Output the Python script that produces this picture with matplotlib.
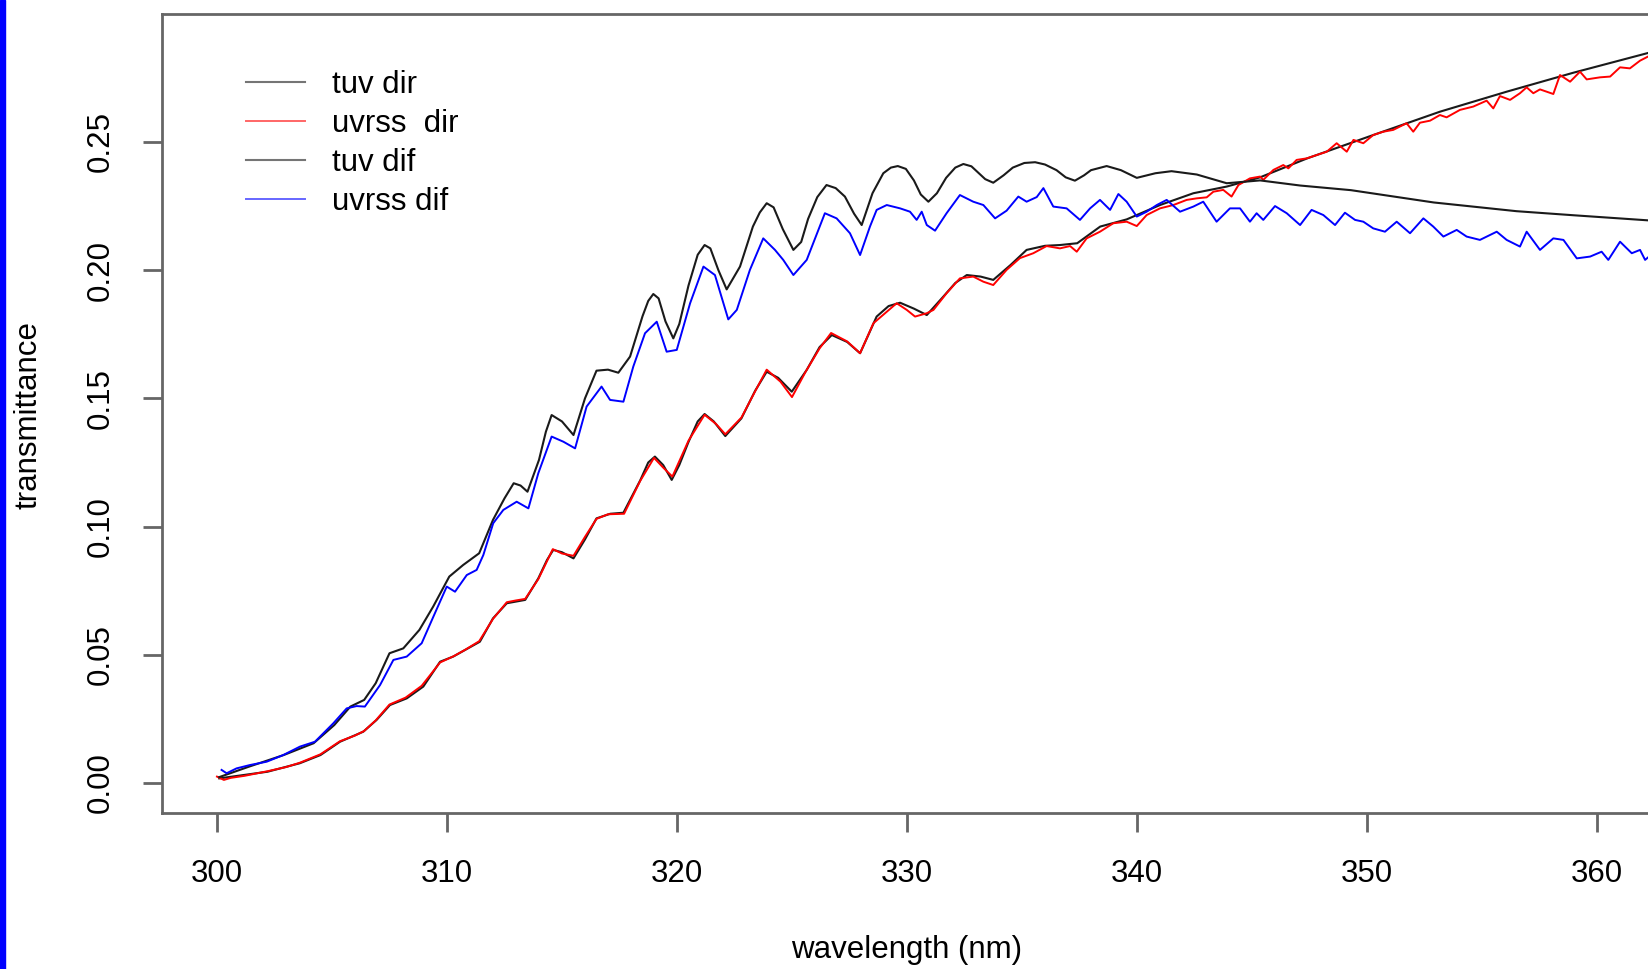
import matplotlib
matplotlib.use('Agg')
import matplotlib.pyplot as plt
from matplotlib.patches import Rectangle

# values (wavelength in nm, transmittance)

# tuv dir - smooth black curve (lower one)
wl_tuv_dir = [300.1, 302.2, 303.6, 304.5, 305.35, 306.36, 306.94, 307.52, 308.25, 308.97,
              309.7, 310.27, 311.43, 312.0, 312.6, 313.4, 313.97, 314.35, 314.62, 315.0,
              315.5, 316.0, 316.5, 317.1, 317.67, 318.4, 318.75, 319.04, 319.4, 319.77,
              320.1, 320.5, 320.9, 321.2, 321.6, 322.1, 322.8, 323.4, 323.9, 324.4,
              324.99, 325.64, 326.2, 326.73, 327.4, 327.96, 328.68, 329.2, 329.7, 330.3,
              330.86, 331.58, 332.1, 332.6, 333.2, 333.75, 334.5, 335.2, 336.0, 336.65,
              337.4, 338.4, 339.55, 341.0, 342.45, 343.9, 345.35, 347.4, 350.27, 353.17,
              356.07, 358.97, 362.26, 364.0]
tuv_dir = [0.0018, 0.0044, 0.0077, 0.0109, 0.0161, 0.0200, 0.0246, 0.0304, 0.0330, 0.0376,
           0.0473, 0.0493, 0.0551, 0.0642, 0.0701, 0.0714, 0.0798, 0.0870, 0.0909, 0.0900,
           0.0876, 0.0950, 0.1032, 0.1050, 0.1054, 0.1180, 0.1250, 0.1273, 0.1240, 0.1182,
           0.1240, 0.1330, 0.1410, 0.1439, 0.1410, 0.1353, 0.1422, 0.1530, 0.1604, 0.1580,
           0.1526, 0.1611, 0.1700, 0.1747, 0.1720, 0.1676, 0.1819, 0.1860, 0.1873, 0.1850,
           0.1825, 0.1897, 0.1950, 0.1981, 0.1975, 0.1962, 0.2020, 0.2079, 0.2095, 0.2098,
           0.2105, 0.2170, 0.2198, 0.2254, 0.2300, 0.2326, 0.2362, 0.2436, 0.2527, 0.2618,
           0.2696, 0.2770, 0.2848, 0.2890]

# uvrss dir - noisy red curve
wl_uvrss_dir = [300.0, 300.3, 300.6, 301.2, 302.2, 303.0, 303.6, 304.5, 305.35, 306.0,
                306.4, 306.9, 307.5, 308.2, 308.9, 309.7, 310.3, 310.8, 311.4, 312.0,
                312.6, 313.0, 313.4, 313.97, 314.6, 315.0, 315.5, 316.0, 316.5, 317.0,
                317.7, 318.4, 319.0, 319.4, 319.8, 320.5, 321.2, 321.7, 322.1, 322.8,
                323.4, 323.9, 324.5, 325.0, 325.6, 326.2, 326.7, 327.4, 327.96,
                328.54, 329.12, 329.55, 329.99, 330.35, 330.86, 331.15, 331.72, 332.30, 332.88,
                333.32, 333.75, 334.33, 334.91, 335.49, 336.07, 336.65, 337.09, 337.38, 337.81,
                338.39, 338.97, 339.55, 339.99, 340.42, 341.0, 341.58, 342.16, 342.59, 343.03,
                343.32, 343.75, 344.11, 344.41, 344.91, 345.35, 345.49, 345.93, 346.36, 346.58,
                346.94, 347.38, 347.81, 348.25, 348.68, 349.12, 349.41, 349.84, 350.27, 350.71,
                351.14, 351.72, 352.01, 352.30, 352.74, 353.17, 353.46, 354.04, 354.62, 355.20,
                355.49, 355.78, 356.22, 356.65, 356.94, 357.23, 357.52, 358.10, 358.39, 358.83,
                359.26, 359.55, 360.13, 360.57, 361.00, 361.43, 361.87, 362.26, 363.0]
uvrss_dir = [0.0025, 0.0012, 0.0020, 0.0028, 0.0046, 0.0062, 0.0079, 0.0112, 0.0163, 0.0185,
             0.0203, 0.0244, 0.0306, 0.0333, 0.0379, 0.0470, 0.0495, 0.0520, 0.0553, 0.0640,
             0.0705, 0.0712, 0.0718, 0.0795, 0.0912, 0.0895, 0.0886, 0.0960, 0.1030, 0.1048,
             0.1050, 0.1178, 0.1268, 0.1230, 0.1195, 0.1335, 0.1436, 0.1400, 0.1360, 0.1425,
             0.1528, 0.1612, 0.1565, 0.1505, 0.1605, 0.1695, 0.1755, 0.1722, 0.1676,
             0.1793, 0.1838, 0.1871, 0.1845, 0.1819, 0.1832, 0.1845, 0.1910, 0.1968, 0.1975,
             0.1955, 0.1942, 0.2001, 0.2047, 0.2066, 0.2094, 0.2085, 0.2094, 0.2072, 0.2124,
             0.2150, 0.2183, 0.2189, 0.2172, 0.2215, 0.2241, 0.2254, 0.2274, 0.2280, 0.2284,
             0.2306, 0.2313, 0.2287, 0.2332, 0.2358, 0.2365, 0.2352, 0.2391, 0.2410, 0.2397,
             0.2430, 0.2436, 0.2449, 0.2462, 0.2495, 0.2462, 0.2508, 0.2495, 0.2527, 0.2540,
             0.2547, 0.2573, 0.2540, 0.2575, 0.2583, 0.2605, 0.2596, 0.2625, 0.2638, 0.2661,
             0.2631, 0.2679, 0.2664, 0.2690, 0.2713, 0.2690, 0.2705, 0.2687, 0.2761, 0.2735,
             0.2774, 0.2744, 0.2752, 0.2755, 0.2791, 0.2787, 0.2817, 0.2835, 0.2850]

# tuv dif - smooth black curve (upper one)
wl_tuv_dif = [300.1, 301.4, 302.9, 304.2, 305.1, 305.8, 306.4, 306.9, 307.5, 308.1,
              308.8, 309.4, 310.1, 310.7, 311.4, 312.0, 312.5, 312.9, 313.2, 313.5,
              314.0, 314.3, 314.55, 315.0, 315.5, 316.0, 316.5, 317.0, 317.45, 317.96,
              318.5, 318.75, 318.97, 319.2, 319.5, 319.84, 320.1, 320.5, 320.9, 321.2,
              321.45, 321.8, 322.16, 322.74, 323.3, 323.6, 323.9, 324.2, 324.6, 325.06,
              325.4, 325.7, 326.1, 326.5, 326.9, 327.3, 327.7, 328.03, 328.5, 328.97,
              329.3, 329.6, 329.95, 330.3, 330.6, 330.93, 331.3, 331.7, 332.1, 332.45,
              332.8, 333.1, 333.4, 333.75, 334.2, 334.6, 335.1, 335.57, 336.0, 336.5,
              336.9, 337.3, 337.7, 338.0, 338.68, 339.3, 339.99, 340.8, 341.5, 342.6,
              343.9, 345.35, 347.1, 349.3, 352.9, 356.5, 359.0, 362.26, 364.0]
tuv_dif = [0.0023, 0.0064, 0.0109, 0.0155, 0.0226, 0.0298, 0.0324, 0.0389, 0.0506, 0.0525,
           0.0597, 0.0688, 0.0805, 0.0850, 0.0896, 0.1026, 0.1110, 0.1169, 0.1160, 0.1136,
           0.1260, 0.1370, 0.1435, 0.1410, 0.1357, 0.1500, 0.1608, 0.1612, 0.1600, 0.1663,
           0.1820, 0.1880, 0.1907, 0.1890, 0.1800, 0.1734, 0.1790, 0.1940, 0.2060, 0.2098,
           0.2085, 0.2000, 0.1925, 0.2014, 0.2170, 0.2225, 0.2261, 0.2245, 0.2160, 0.2079,
           0.2110, 0.2200, 0.2285, 0.2332, 0.2320, 0.2287, 0.2220, 0.2176, 0.2300, 0.2378,
           0.2400, 0.2406, 0.2395, 0.2350, 0.2295, 0.2267, 0.2300, 0.2360, 0.2400, 0.2414,
           0.2405, 0.2380, 0.2355, 0.2341, 0.2370, 0.2400, 0.2418, 0.2421, 0.2412, 0.2390,
           0.2362, 0.2349, 0.2370, 0.2390, 0.2406, 0.2390, 0.2360, 0.2378, 0.2386, 0.2373,
           0.2339, 0.2350, 0.2330, 0.2312, 0.2264, 0.2230, 0.2214, 0.2194, 0.2183]

# uvrss dif - noisy blue curve
wl_uvrss_dif = [300.20, 300.42, 300.85, 301.43, 302.16, 302.88, 303.61, 304.26, 305.06, 305.64,
                306.07, 306.43, 307.09, 307.67, 308.25, 308.90, 309.41, 309.99, 310.35, 310.86,
                311.29, 311.58, 312.01, 312.45, 313.03, 313.54, 313.97, 314.55, 315.06, 315.57,
                316.07, 316.72, 317.09, 317.67, 318.10, 318.61, 319.12, 319.55, 319.99, 320.57,
                321.15, 321.65, 322.23, 322.60, 323.17, 323.75, 324.26, 324.62, 325.06, 325.64,
                326.43, 326.94, 327.52, 327.96, 328.39, 328.68, 329.12, 329.70, 330.13, 330.42,
                330.64, 330.86, 331.22, 331.72, 332.30, 332.88, 333.32, 333.83, 334.33, 334.84,
                335.20, 335.64, 335.93, 336.36, 336.94, 337.52, 337.96, 338.39, 338.83, 339.19,
                339.55, 339.99, 340.42, 340.86, 341.29, 341.87, 342.45, 342.88, 343.46, 344.04,
                344.48, 344.91, 345.20, 345.49, 346.0, 346.51, 347.09, 347.59, 348.10, 348.61,
                349.04, 349.48, 349.84, 350.27, 350.78, 351.29, 351.87, 352.45, 352.88, 353.32,
                353.90, 354.33, 354.91, 355.64, 356.07, 356.65, 356.94, 357.52, 358.10, 358.54,
                359.12, 359.70, 360.20, 360.49, 361.00, 361.51, 361.87, 362.09, 362.26, 363.0]
uvrss_dif = [0.0051, 0.0038, 0.0057, 0.0070, 0.0083, 0.0109, 0.0142, 0.0161, 0.0233, 0.0291,
             0.0300, 0.0298, 0.0382, 0.0480, 0.0493, 0.0545, 0.0649, 0.0766, 0.0746, 0.0811,
             0.0831, 0.0889, 0.1013, 0.1065, 0.1097, 0.1071, 0.1208, 0.1351, 0.1331, 0.1305,
             0.1468, 0.1546, 0.1494, 0.1487, 0.1624, 0.1754, 0.1799, 0.1682, 0.1689, 0.1871,
             0.2014, 0.1981, 0.1808, 0.1845, 0.2001, 0.2124, 0.2079, 0.2040, 0.1981, 0.2040,
             0.2222, 0.2202, 0.2144, 0.2059, 0.2170, 0.2235, 0.2254, 0.2241, 0.2228, 0.2196,
             0.2228, 0.2176, 0.2154, 0.2222, 0.2293, 0.2267, 0.2254, 0.2202, 0.2232, 0.2287,
             0.2267, 0.2285, 0.2320, 0.2248, 0.2241, 0.2196, 0.2241, 0.2274, 0.2235, 0.2297,
             0.2267, 0.2209, 0.2228, 0.2254, 0.2274, 0.2228, 0.2248, 0.2267, 0.2189, 0.2241,
             0.2241, 0.2189, 0.2222, 0.2196, 0.2250, 0.2222, 0.2176, 0.2235, 0.2215, 0.2176,
             0.2224, 0.2196, 0.2189, 0.2163, 0.2150, 0.2189, 0.2144, 0.2202, 0.2170, 0.2131,
             0.2157, 0.2131, 0.2118, 0.2150, 0.2118, 0.2092, 0.2150, 0.2079, 0.2124, 0.2118,
             0.2046, 0.2053, 0.2072, 0.2040, 0.2111, 0.2066, 0.2079, 0.2040, 0.2053, 0.2060]

legend_labels = ['tuv dir', 'uvrss  dir', 'tuv dif', 'uvrss dif']
x_ticks = [300, 310, 320, 330, 340, 350, 360]
y_ticks = [0.00, 0.05, 0.10, 0.15, 0.20, 0.25]

plt.rcParams['font.family'] = ['Liberation Sans', 'DejaVu Sans']
W, H = 1649, 969
fig = plt.figure(figsize=(W / 100, H / 100), dpi=100)

# plot box is cut off on the right in the original, so let the axes run past the edge
left, right, top, bottom = 162, 1652, 14, 813
ax = fig.add_axes([left / W, 1 - bottom / H, (right - left) / W, (bottom - top) / H])

ax.plot(wl_tuv_dir, tuv_dir, color='#1a1a1a', lw=1.5, label=legend_labels[0])
ax.plot(wl_uvrss_dir, uvrss_dir, color='red', lw=1.4, label=legend_labels[1])
ax.plot(wl_tuv_dif, tuv_dif, color='#1a1a1a', lw=1.5, label=legend_labels[2])
ax.plot(wl_uvrss_dif, uvrss_dif, color='blue', lw=1.4, label=legend_labels[3])

ax.set_xlim(297.61, 362.39)
ax.set_ylim(-0.0117, 0.2999)
ax.set_xticks(x_ticks)
ax.set_xticklabels([str(t) for t in x_ticks])
ax.set_yticks(y_ticks)
ax.set_yticklabels(['%.2f' % t for t in y_ticks])

spine_col = '#666666'
for s in ['left', 'top', 'bottom']:
    ax.spines[s].set_color(spine_col)
    ax.spines[s].set_linewidth(2)
ax.spines['right'].set_visible(False)
ax.tick_params(axis='both', length=14, width=2, color=spine_col, labelsize=22.5, pad=19)
ax.tick_params(axis='y', labelrotation=90)
for lab in ax.get_yticklabels():
    lab.set_va('center')

fig.text(907 / W, 1 - 950 / H, 'wavelength (nm)', ha='center', va='center', fontsize=22.5)
fig.text(29 / W, 1 - 415 / H, 'transmittance', ha='center', va='center', rotation=90, fontsize=22.5)

leg = ax.legend(loc='upper left', bbox_to_anchor=(246 / W, 1 - 70 / H), bbox_transform=fig.transFigure,
                frameon=False, fontsize=22.5, handlelength=1.9, handletextpad=0.85,
                labelspacing=0.29, borderpad=0, borderaxespad=0)
for line in leg.get_lines():
    line.set_alpha(0.6)

# blue strip on the left edge of the original image
fig.patches.append(Rectangle((0, 0), 5 / W, 1, transform=fig.transFigure, color='blue', zorder=10))

fig.savefig('out.png', dpi=100)
